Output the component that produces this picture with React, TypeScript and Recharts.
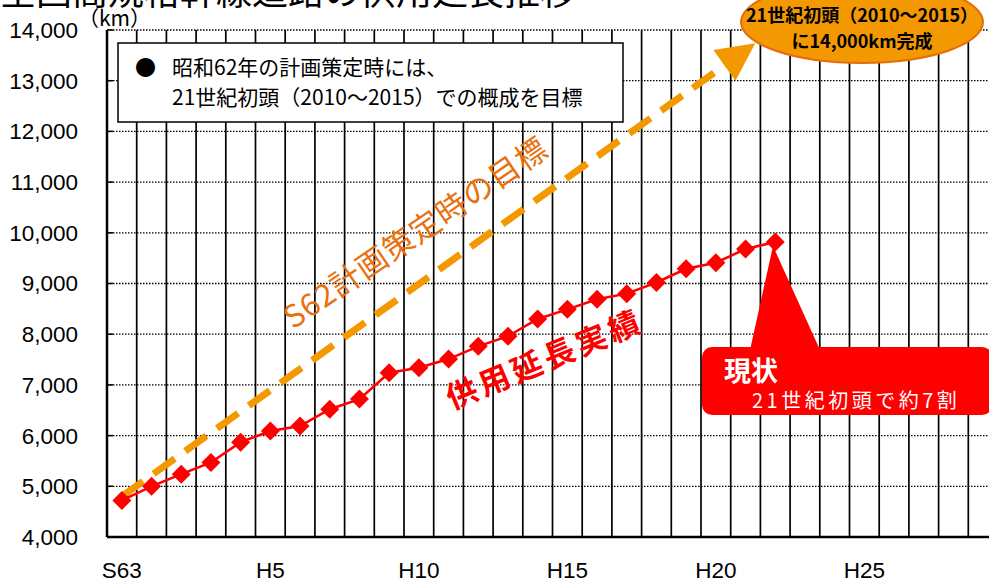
import React from "react";
import { CartesianGrid, Line, LineChart, XAxis, YAxis } from "recharts";

// fiscal years on the x axis (S63 = 1988, H1 = 1989 ...)
const years = [
  "S63", "H1", "H2", "H3", "H4", "H5", "H6", "H7", "H8", "H9",
  "H10", "H11", "H12", "H13", "H14", "H15", "H16", "H17", "H18", "H19",
  "H20", "H21", "H22", "H23", "H24", "H25", "H26", "H27", "H28", "H29",
];

// 供用延長実績 (km), S63 .. H22
const actualKm = [
  4720, 5000, 5240, 5470, 5870, 6090, 6190, 6520, 6720, 7240,
  7340, 7510, 7760, 7960, 8300, 8490, 8690, 8800, 9020, 9290,
  9410, 9680, 9820,
];

// S62計画策定時の目標: start and end of the arrow
const planStart = { year: "S63", km: 4800 };
const planEnd = { year: "H21", km: 13600 };

const labeledYears = ["S63", "H5", "H10", "H15", "H20", "H25"];
const yTicks = [4000, 5000, 6000, 7000, 8000, 9000, 10000, 11000, 12000, 13000, 14000];

const rows = years.map((year, i) => ({
  year,
  actual: i < actualKm.length ? actualKm[i] : null,
  plan: year === planStart.year ? planStart.km : year === planEnd.year ? planEnd.km : null,
}));

const ORANGE = "#F39800";
const RED = "#FF0000";
const JP = "'Noto Sans CJK JP', 'Noto Sans', sans-serif";
const NUM = "'Liberation Sans', Arial, sans-serif";

let arrowStart: { x: number; y: number } | null = null;

const PlanDot = (props: any) => {
  const { cx, cy, index, value } = props;
  if (value == null || cx == null || cy == null) return <g key={`p${index}`} />;
  if (years[index] === planStart.year) {
    arrowStart = { x: cx, y: cy };
    return <g key={`p${index}`} />;
  }
  if (!arrowStart) return <g key={`p${index}`} />;
  const dx = cx - arrowStart.x;
  const dy = cy - arrowStart.y;
  const len = Math.sqrt(dx * dx + dy * dy);
  const ux = dx / len;
  const uy = dy / len;
  const tipX = cx + ux * 12;
  const tipY = cy + uy * 12;
  const bx = tipX - ux * 38;
  const by = tipY - uy * 38;
  const pts = [
    `${tipX},${tipY}`,
    `${bx - uy * 19},${by + ux * 19}`,
    `${bx + uy * 19},${by - ux * 19}`,
  ].join(" ");
  return <polygon key={`p${index}`} points={pts} fill={ORANGE} />;
};

const Diamond = (props: any) => {
  const { cx, cy, index } = props;
  if (cx == null || cy == null || props.value == null) return <g key={`d${index}`} />;
  const r = 9.5;
  return (
    <polygon
      key={`d${index}`}
      points={`${cx},${cy - r} ${cx + r},${cy} ${cx},${cy + r} ${cx - r},${cy}`}
      fill={RED}
    />
  );
};

const XTick = ({ x, y, payload }: any) => {
  if (!labeledYears.includes(payload.value)) return <g />;
  return (
    <text x={x} y={y + 41} textAnchor="middle" fontSize={22.5} fontFamily={NUM} fill="#000">
      {payload.value}
    </text>
  );
};

export default function App() {
  arrowStart = null;
  return (
    <div
      style={{
        position: "fixed",
        left: 0,
        top: 0,
        width: 989,
        height: 582,
        overflow: "hidden",
        background: "#fff",
      }}
    >
      <LineChart
        width={1010}
        height={582}
        data={rows}
        margin={{ top: 30, right: 12, bottom: 0, left: 0 }}
      >
        <CartesianGrid
          vertical={false}
          stroke="#000"
          strokeWidth={1.3}
          strokeDasharray="1.5 1.5"
        />
        <CartesianGrid
          horizontal={false}
          stroke="#000"
          strokeWidth={1.7}
          verticalCoordinatesGenerator={({ offset }: any) => {
            const w = offset.width / years.length;
            return years.map((_, i) => offset.left + (i + 1) * w);
          }}
        />
        <XAxis
          dataKey="year"
          interval={0}
          tick={<XTick />}
          tickLine={false}
          tickSize={0}
          tickMargin={0}
          height={45}
          padding={{ left: 14.85, right: 14.85 }}
          axisLine={{ stroke: "#000", strokeWidth: 2.5 }}
        />
        <YAxis
          width={107}
          domain={[4000, 14000]}
          ticks={yTicks}
          interval={0}
          allowDataOverflow
          tickFormatter={(v: number) => v.toLocaleString("en-US")}
          tick={{ fontSize: 22.5, fontFamily: NUM, fill: "#000" }}
          tickSize={-6}
          tickMargin={35}
          tickLine={{ stroke: "#000", strokeWidth: 1.5 }}
          axisLine={{ stroke: "#000", strokeWidth: 2.5 }}
        />
        <Line
          dataKey="plan"
          connectNulls
          stroke={ORANGE}
          strokeWidth={7}
          strokeDasharray="26 13"
          dot={PlanDot}
          activeDot={false}
          isAnimationActive={false}
        />
        <Line
          dataKey="actual"
          stroke={RED}
          strokeWidth={2.5}
          dot={Diamond}
          activeDot={false}
          isAnimationActive={false}
        />
      </LineChart>

      <svg
        width={989}
        height={582}
        style={{ position: "absolute", left: 0, top: 0, pointerEvents: "none" }}
      >
        <text x={0} y={5} fontSize={36} fontFamily={JP} fill="#000">
          全国高規格幹線道路の供用延長推移
        </text>
        <text x={78} y={26} fontSize={21} fontFamily={JP} fill="#000">
          （km）
        </text>

        <rect x={118} y={43} width={505} height={79} fill="#fff" stroke="#000" strokeWidth={1.5} />
        <text x={135} y={75} fontSize={21} fontFamily={JP} fill="#000">
          ●
        </text>
        <text x={172} y={75} fontSize={21} fontFamily={JP} fill="#000">
          昭和62年の計画策定時には、
        </text>
        <text x={172} y={105} fontSize={21} fontFamily={JP} fill="#000">
          21世紀初頭（2010～2015）での概成を目標
        </text>

        <ellipse cx={862} cy={22} rx={121} ry={41} fill={ORANGE} stroke="#E46C0A" strokeWidth={2} />
        <text x={862} y={22} textAnchor="middle" fontSize={18} fontWeight="bold" fontFamily={JP} fill="#000">
          21世紀初頭（2010～2015）
        </text>
        <text x={862} y={48} textAnchor="middle" fontSize={18} fontWeight="bold" fontFamily={JP} fill="#000">
          に14,000km完成
        </text>

        <text
          x={293}
          y={330}
          transform="rotate(-34.3 293 330)"
          fontSize={31}
          letterSpacing={1}
          fontFamily={JP}
          fill="#E8700F"
        >
          S62計画策定時の目標
        </text>
        <text
          x={452}
          y={410}
          transform="rotate(-22.5 452 410)"
          fontSize={31}
          fontWeight="bold"
          letterSpacing={4}
          fontFamily={JP}
          fill={RED}
        >
          供用延長実績
        </text>

        <polygon points="750,350 820,350 773,246" fill={RED} />
        <rect x={702} y={347} width={290} height={68} rx={10} fill={RED} />
        <text x={724} y={381} fontSize={27} fontWeight="bold" fontFamily={JP} fill="#fff">
          現状
        </text>
        <text x={752} y={408} fontSize={20} letterSpacing={3.5} fontFamily={JP} fill="#fff">
          21世紀初頭で約7割
        </text>
      </svg>
    </div>
  );
}
